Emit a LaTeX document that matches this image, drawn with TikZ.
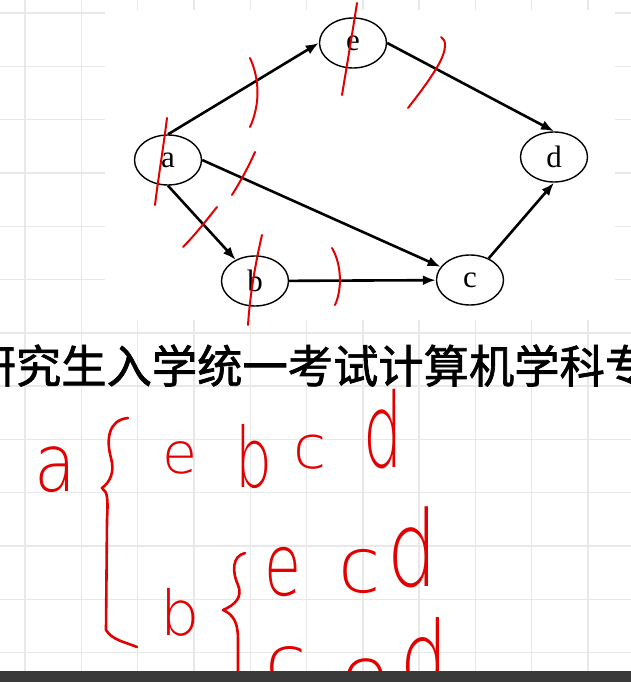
\documentclass[tikz,border=0pt]{standalone}
\usepackage{fontspec}
\usepackage{graphicx}
\setmainfont{Liberation Serif}
\newfontfamily\cjk{Noto Sans CJK SC}[FakeBold=1.5]
\newfontfamily\hand{DejaVu Sans ExtraLight}
\usetikzlibrary{arrows.meta,shapes.geometric}
\definecolor{pen}{RGB}{226,0,0}
\definecolor{gridline}{RGB}{232,232,232}
\definecolor{bar}{RGB}{58,58,58}

\begin{document}
\begin{tikzpicture}[x=1pt, y=-1pt,
    vertex/.style={draw, ellipse, line width=1.4pt, minimum width=67pt,
                   minimum height=50pt, inner sep=0pt, font=\fontsize{31}{31}\selectfont},
    edge/.style={->, line width=2.6pt},
    slash/.style={draw=pen, line width=2pt, line cap=round},
    hw/.style={text=pen, inner sep=0pt, font=\hand\fontsize{#1}{#1}\selectfont},
    brace/.style={draw=pen, line width=2.6pt, line cap=round, line join=round},
    >={Latex[length=13pt, width=10pt]}]
  \useasboundingbox (0,0) rectangle (631,682);
  \fill[white] (0,0) rectangle (631,682);
  \foreach \i in {0,...,10}
    \draw[gridline, line width=1.4pt] (25+56.3*\i,0) -- (25+56.3*\i,682);
  \foreach \j in {0,...,12}
    \draw[gridline, line width=1.4pt] (0,13+53.3*\j) -- (631,13+53.3*\j);
  \fill[white] (105,10) rectangle (615,320);

  \node[vertex] (a) at (168,160) {a};
  \node[vertex] (e) at (353,43) {e};
  \node[vertex] (d) at (554,157) {d};
  \node[vertex] (b) at (255,281) {b};
  \node[vertex] (c) at (470,280) {c};
  \draw[edge] (a.north) -- (e.west);
  \draw[edge] (a.south) -- (b);
  \draw[edge] (a.east) -- (c);
  \draw[edge] (b) -- (c);
  \draw[edge] (c) -- (d.south);
  \draw[edge] (e.east) -- (d.north);

  \draw[slash] (167,118) .. controls (163,150) and (158,180) .. (155,205);
  \draw[slash] (250,58) .. controls (260,80) and (260,105) .. (250,127);
  \draw[slash] (357,3) .. controls (352,35) and (347,65) .. (342,95);
  \draw[slash] (441,37) .. controls (447,40) and (446,50) .. (440,62)
                        .. controls (430,80) and (418,95) .. (408,108);
  \draw[slash] (255,152) .. controls (248,168) and (240,182) .. (232,195);
  \draw[slash] (217,207) .. controls (205,222) and (195,235) .. (183,247);
  \draw[slash] (262,235) .. controls (255,265) and (250,295) .. (248,325);
  \draw[slash] (332,248) .. controls (342,265) and (342,290) .. (335,305);

  \node[font=\cjk\fontsize{45.3}{45.3}\selectfont, anchor=base west, inner sep=0pt]
    (title) at (-29.5,383) {研究生入学统一考试计算机学科专};

  \node[hw=80] (ha) at (55,470) {\scalebox{0.85}[1]{a}};
  \node[hw=57] (he1) at (180,458) {e};
  \node[hw=83] (hb1) at (254,457) {\scalebox{0.7}[1]{b}};
  \node[hw=60] (hc1) at (310,452) {c};
  \node[hw=103] (hd1) at (383,429) {\scalebox{0.6}[1]{d}};
  \node[hw=62] (hb2) at (180,612) {b};
  \node[hw=86] (he2) at (283,572) {\scalebox{0.7}[1]{e}};
  \node[hw=77] (hc2) at (360,571) {c};
  \node[hw=105] (hd2) at (412,547) {\scalebox{0.75}[1]{d}};
  \node[hw=75] (hc3) at (286,668) {c};
  \node[hw=80] (he3) at (365,682) {e};
  \node[hw=100] (hd3) at (424,656) {\scalebox{0.75}[1]{d}};

  \draw[brace] (128,418) .. controls (108,420) and (106,440) .. (111,458)
               .. controls (115,472) and (110,482) .. (102,488)
               .. controls (108,492) and (108,500) .. (107,520) -- (106,630)
               .. controls (112,640) and (125,642) .. (137,647);
  \draw[brace] (245,553) .. controls (232,556) and (232,572) .. (238,585)
               .. controls (243,597) and (235,605) .. (223,610)
               .. controls (235,615) and (238,625) .. (238,640) -- (238,672);

  \fill[bar] (0,671) rectangle (631,682);
\end{tikzpicture}
\end{document}
